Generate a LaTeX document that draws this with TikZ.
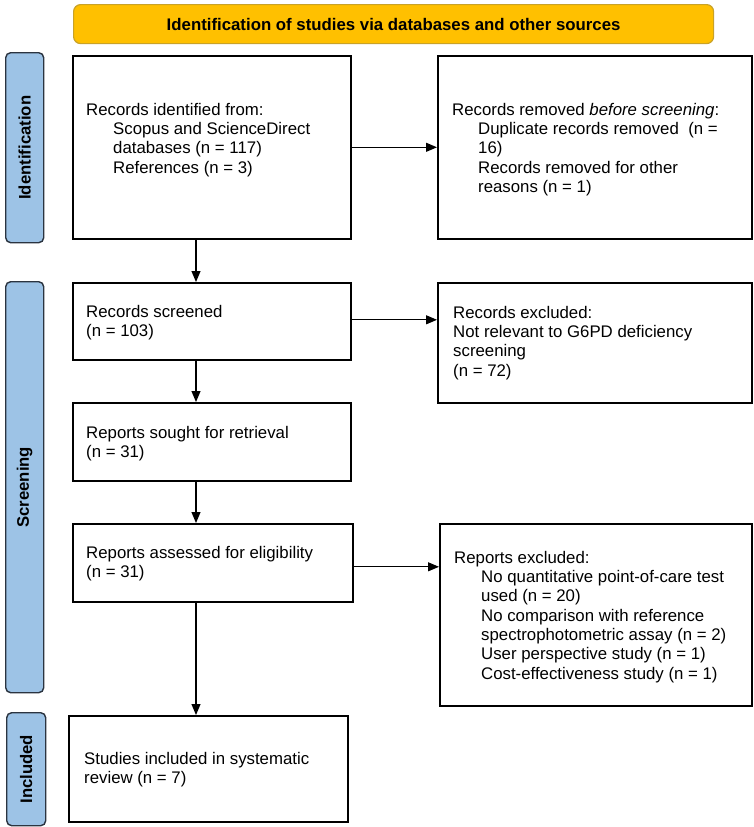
\documentclass[tikz,border=0pt]{standalone}
\usepackage{fontspec}
\setmainfont{Liberation Sans}
\usetikzlibrary{arrows.meta}
\definecolor{banfill}{HTML}{FFC000}
\definecolor{bandraw}{HTML}{C9A227}
\definecolor{labfill}{HTML}{9DC3E6}
\definecolor{labdraw}{HTML}{2B3440}
\begin{document}
\begin{tikzpicture}[x=1pt,y=-1pt,
  box/.style={draw=black,line width=1.6pt,inner sep=0pt,anchor=north west},
  lab/.style={draw=labdraw,fill=labfill,line width=1.4pt,rounded corners=5pt,inner sep=0pt,anchor=north west},
  ban/.style={draw=bandraw,fill=banfill,line width=1.2pt,rounded corners=7pt,inner sep=0pt,anchor=north west},
  txt/.style={anchor=north west,inner sep=0pt,align=left,font=\fontsize{16.8}{19.3}\selectfont},
  labtxt/.style={rotate=90,inner sep=0pt,font=\fontsize{16.7}{19}\selectfont\bfseries},
  arr/.style={line width=1.1pt,-{Triangle[length=11pt,width=9pt]}}]
\useasboundingbox (0,0) rectangle (754,827);
% banner
\node[ban,minimum width=640pt,minimum height=39pt] (ban) at (73,4) {};
\node[inner sep=0pt,font=\fontsize{16.8}{19}\selectfont\bfseries] (bant) at (ban.center) {Identification of studies via databases and other sources};
% side labels
\node[lab,minimum width=38pt,minimum height=190pt] (idl) at (5,52) {};
\node[labtxt] (idlt) at (idl.center) {Identification};
\node[lab,minimum width=38pt,minimum height=411pt] (scl) at (5,281) {};
\node[labtxt] (sclt) at (scl.center) {Screening};
\node[lab,minimum width=39pt,minimum height=113pt] (inl) at (6,712) {};
\node[labtxt] (inlt) at (inl.center) {Included};
% boxes
\node[box,minimum width=278pt,minimum height=183pt] (b1) at (72,55) {};
\node[box,minimum width=314pt,minimum height=183pt] (b2) at (437,55) {};
\node[box,minimum width=278pt,minimum height=77pt] (b3) at (72,282) {};
\node[box,minimum width=314pt,minimum height=120pt] (b4) at (437,282) {};
\node[box,minimum width=278pt,minimum height=78pt] (b5) at (72,402) {};
\node[box,minimum width=280pt,minimum height=78pt] (b6) at (72,523) {};
\node[box,minimum width=312pt,minimum height=182pt] (b7) at (439,523) {};
\node[box,minimum width=279pt,minimum height=106pt] (b8) at (68,715) {};
% texts
\node[txt] (t1) at (86,103) {Records identified from:\\\hspace*{27pt}Scopus and ScienceDirect\\\hspace*{27pt}databases (n = 117)\\\hspace*{27pt}References (n = 3)};
\node[txt] (t2) at (452,103) {Records removed \textit{before screening}:\\\hspace*{26pt}Duplicate records removed\ \ (n =\\\hspace*{26pt}16)\\\hspace*{26pt}Records removed for other\\\hspace*{26pt}reasons (n = 1)};
\node[txt] (t3) at (86,305) {Records screened\\(n = 103)};
\node[txt] (t4) at (453,306) {Records excluded:\\Not relevant to G6PD deficiency\\screening\\(n = 72)};
\node[txt] (t5) at (86,426) {Reports sought for retrieval\\(n = 31)};
\node[txt] (t6) at (86,546) {Reports assessed for eligibility\\(n = 31)};
\node[txt] (t7) at (454,551) {Reports excluded:\\\hspace*{27pt}No quantitative point-of-care test\\\hspace*{27pt}used (n = 20)\\\hspace*{27pt}No comparison with reference\\\hspace*{27pt}spectrophotometric assay (n = 2)\\\hspace*{27pt}User perspective study (n = 1)\\\hspace*{27pt}Cost-effectiveness study (n = 1)};
\node[txt] (t8) at (84,752) {Studies included in systematic\\review (n = 7)};
% arrows
\coordinate (ax) at (196,0);
\draw[arr] (b1.east) -- (b2.west);
\draw[arr] ([yshift=1.5pt]b3.east) -- ([yshift=1.5pt]b3.east -| b4.west);
\draw[arr] ([yshift=-4pt]b6.east) -- ([yshift=-4pt]b6.east -| b7.west);
\draw[arr] (b1.south -| ax) -- (b3.north -| ax);
\draw[arr] (b3.south -| ax) -- (b5.north -| ax);
\draw[arr] (b5.south -| ax) -- (b6.north -| ax);
\draw[arr] (b6.south -| ax) -- (b8.north -| ax);
\end{tikzpicture}
\end{document}
